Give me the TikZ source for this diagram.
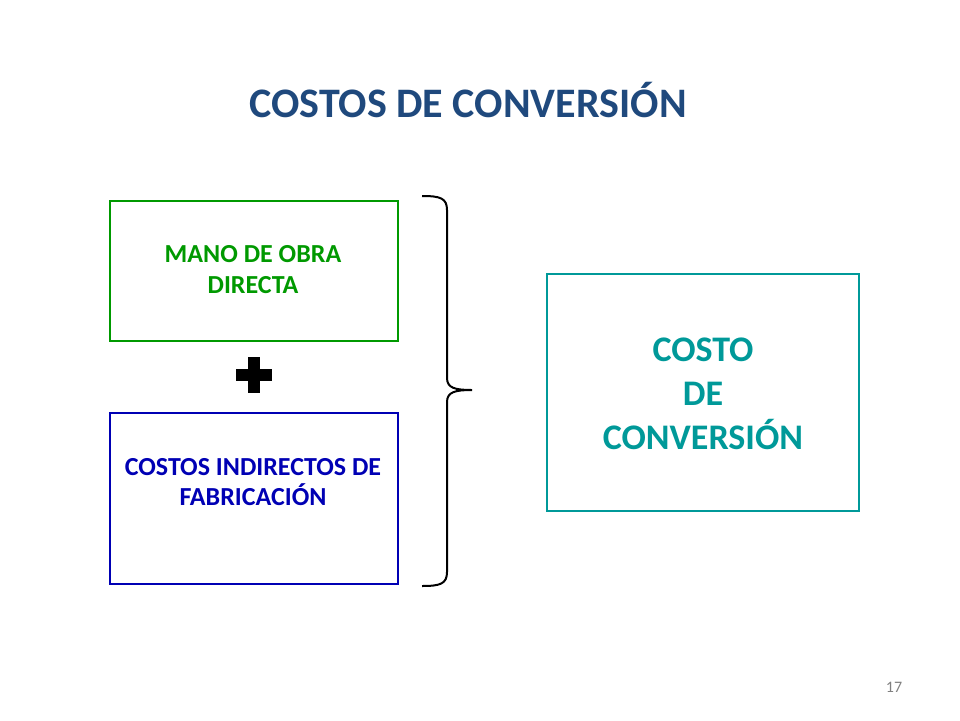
\documentclass[tikz,border=0pt]{standalone}
\usepackage{fontspec}
\setmainfont{Carlito}
\definecolor{ttl}{RGB}{31,73,125}
\definecolor{grn}{RGB}{0,153,0}
\definecolor{blu}{RGB}{0,0,180}
\definecolor{tea}{RGB}{0,153,153}
\begin{document}
\begin{tikzpicture}[x=1pt,y=-1pt,
 box/.style={draw,line width=2.5pt,inner sep=0pt},
 lbl/.style={font=\bfseries,align=center}]
\useasboundingbox (0,0) rectangle (960,720);
\node[lbl,text=ttl,font=\bfseries\fontsize{42}{50}\selectfont] (title) at (468,100) {COSTOS DE CONVERSIÓN};
\draw[box,grn] (110,201) rectangle (398,341);
\node[lbl,text=grn,font=\bfseries\fontsize{26}{31}\selectfont] (mod) at (253,270) {MANO DE OBRA\\DIRECTA};
\draw[box,blu] (110,413) rectangle (398,584);
\node[lbl,text=blu,font=\bfseries\fontsize{26}{30}\selectfont] (cif) at (253,482) {COSTOS INDIRECTOS DE\\ FABRICACIÓN};
\fill (248,357) rectangle (260,393);
\fill (236,369) rectangle (272,381);
\draw[line width=2pt] (422,196) .. controls (440,196) and (447,198) .. (447,210) -- (447,378) .. controls (447,388) and (455,390) .. (472,390) .. controls (455,390) and (447,392) .. (447,402) -- (447,572) .. controls (447,584) and (440,586) .. (422,586);
\draw[box,tea] (547,274) rectangle (859,511);
\node[lbl,text=tea,font=\bfseries\fontsize{36}{44}\selectfont] (cc) at (703,394) {COSTO\\DE\\CONVERSIÓN};
\node[text=gray,font=\fontsize{16}{19}\selectfont] (pg) at (894,687) {17};
\end{tikzpicture}
\end{document}
